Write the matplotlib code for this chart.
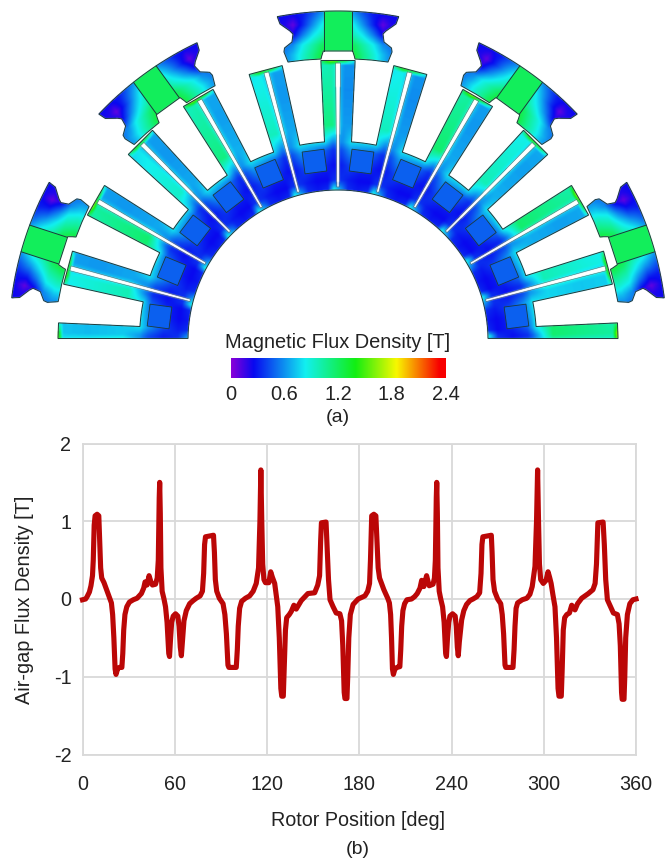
#!/usr/bin/env python3
# -*- coding: utf-8 -*-
"""
Flux density map of the machine section (a) and air-gap flux density (b).
"""
import numpy as np
import matplotlib

matplotlib.use("Agg")
import matplotlib.pyplot as plt
from matplotlib.colors import LinearSegmentedColormap
from matplotlib.patches import Polygon
from matplotlib.path import Path

plt.rcParams['font.family'] = ['Liberation Sans', 'DejaVu Sans']
plt.rcParams['axes.unicode_minus'] = False

# Air-gap curve
rotor_pos = [0, 2, 3, 4.5, 5.5, 6.5, 7, 7.6, 8.2, 9.5, 10.6, 11.2, 11.8, 12.5, 14, 15.5, 17.5, 18.8, 19.6, 20.4,
             21.2, 21.8, 22.8, 24, 25.6, 26.2, 26.8, 27.6, 28.8, 30.5, 33, 35.5, 38.3, 39.8, 40.7, 42, 43.3,
             44.5, 45.5, 47.5, 48.6, 49.3, 49.9, 50.2, 50.6, 51, 51.8, 53, 54, 55, 56.1, 56.6, 57.3, 58, 59,
             60.5, 62, 62.8, 63.6, 64.3, 65, 66, 67.5, 69.7, 72, 74, 76.5, 78, 78.8, 79.4, 80, 82.7, 85.2, 85.8,
             86.4, 87.3, 89, 91.4, 92.6, 93.6, 94.6, 95.2, 100, 100.7, 101.3, 102.2, 103.5, 106, 108.7, 111,
             113, 114.5, 115.4, 116, 116.6, 117.2, 118, 119, 121.2, 122.4, 123.5, 125, 126, 127, 128, 129,
             129.6, 130.6, 131.2, 132, 132.8, 134.5, 135.8, 137.5, 139, 140.5, 142.3, 146.6, 151, 153, 154.2,
             154.9, 155.4, 158.4, 159, 160, 161, 163, 165, 167.4, 168.5, 169.3, 170.2, 170.7, 172, 172.5,
             173.2, 174.2, 176, 179.3,
             181.5, 183.7, 185.5, 186.7, 187.3, 188.1, 189.5, 190.8, 191.5, 192.3, 193.2, 194.5, 196, 198.5,
             199.6, 200.4, 201, 201.6, 202.2, 203.2, 204.5, 206.4, 207, 207.6, 208.4, 209.5, 211, 214, 216,
             217.7, 219.5, 220.6, 222, 223.8, 224.8, 225.5, 228, 228.9, 229.5, 230.1, 230.4, 230.8, 231.2,
             232, 233, 234.2, 235.2, 236.2, 236.7, 237.4, 238.2, 239, 240.7, 242.4, 243.1, 243.8, 244.4, 245.1,
             246.6, 248, 249.8, 252, 254, 256.5, 258.3, 259.2, 259.8, 260.4, 263.3, 265.9, 266.4, 267, 268, 270,
             272, 273, 273.9, 274.8, 275.3, 280, 280.7, 281.3, 282, 283, 286, 289, 291, 292.5, 294.3, 295.3,
             296, 296.6, 297.2, 298, 299.7, 301.5, 302.8, 303.8, 304.8, 306, 307.3, 308.3, 309.3, 309.9, 311.4,
             312, 312.7, 313.6, 315, 316.7, 318.2, 320.3, 322, 324.7, 329, 332, 333.4, 334.3, 335.2, 338.6,
             339.4, 340.3, 341.4, 343.5, 345.3, 347.9, 349, 349.8, 350.6, 351, 352.2, 352.7, 353.3, 354.4, 356,
             358, 360]
air_gap_flux = [-0.01, 0, 0.03, 0.09, 0.17, 0.3, 0.5, 0.95, 1.07, 1.09, 1.07, 0.75, 0.4, 0.27, 0.21, 0.13, 0.02,
                -0.05, -0.2, -0.5, -0.9, -0.97, -0.9, -0.88, -0.88, -0.7, -0.4, -0.2, -0.1, -0.04, -0.01, 0.01,
                0.07, 0.14, 0.22, 0.18, 0.3, 0.22, 0.18, 0.19, 0.27, 0.5, 1.3, 1.5, 1.1, 0.4, 0.1, 0, -0.1, -0.3,
                -0.7, -0.74, -0.5, -0.3, -0.22, -0.19, -0.22, -0.35, -0.62, -0.73, -0.55, -0.28, -0.15, -0.06,
                -0.02, 0.01, 0.04, 0.1, 0.33, 0.7, 0.8, 0.81, 0.82, 0.6, 0.25, 0.1, 0.01, -0.06, -0.2, -0.45, -0.85,
                -0.88, -0.88, -0.65, -0.35, -0.12, -0.03, 0.01, 0.04, 0.1, 0.2, 0.4, 1.0, 1.66, 1.0, 0.45, 0.25,
                0.21, 0.21, 0.35, 0.28, 0.2, 0.05, -0.1, -0.5, -1.15, -1.25, -1.25, -0.9, -0.4, -0.24, -0.2, -0.16,
                -0.08, -0.13, -0.08, -0.02, 0.07, 0.08, 0.18, 0.3, 0.75, 0.98, 0.99, 0.7, 0.25, -0.01, -0.1, -0.18,
                -0.19, -0.28, -0.6, -1.2, -1.28, -1.28, -1.0, -0.5, -0.2, -0.07, 0,
                0.02, 0.04, 0.1, 0.2, 0.5, 1.07, 1.09, 1.07, 0.75, 0.4, 0.27, 0.2, 0.12, 0.01, -0.05, -0.2, -0.5,
                -0.9, -0.97, -0.9, -0.88, -0.87, -0.65, -0.35, -0.15, -0.06, -0.01, 0, 0.03, 0.07, 0.14, 0.24,
                0.16, 0.3, 0.22, 0.17, 0.19, 0.27, 0.5, 1.3, 1.5, 1.1, 0.4, 0.1, 0, -0.1, -0.3, -0.7, -0.74, -0.5,
                -0.3, -0.22, -0.19, -0.22, -0.35, -0.62, -0.73, -0.55, -0.27, -0.15, -0.07, -0.02, 0, 0.03, 0.08,
                0.33, 0.7, 0.8, 0.81, 0.82, 0.6, 0.25, 0.1, 0, -0.06, -0.2, -0.45, -0.85, -0.88, -0.88, -0.65,
                -0.35, -0.12, -0.05, -0.01, 0.01, 0.06, 0.16, 0.42, 1.0, 1.66, 1.0, 0.45, 0.25, 0.2, 0.24, 0.35,
                0.28, 0.2, 0.05, -0.1, -0.5, -1.15, -1.25, -1.25, -0.9, -0.4, -0.24, -0.2, -0.18, -0.08, -0.14,
                -0.06, 0.01, 0.07, 0.12, 0.2, 0.45, 0.98, 0.99, 0.7, 0.25, -0.01, -0.1, -0.18, -0.2, -0.32, -0.6,
                -1.2, -1.29, -1.29, -1.0, -0.5, -0.2, -0.06, -0.01, 0]
x_ticks = [0, 60, 120, 180, 240, 300, 360]
y_ticks = [-2, -1, 0, 1, 2]
cbar_ticks = ["0", "0.6", "1.2", "1.8", "2.4"]

# Flux map colours, estimated from the legend
cmap_stops = [(0.0, "#8a00d8"), (0.25 / 2.4, "#0808f0"), (0.83 / 2.4, "#12f0f0"),
              (1.39 / 2.4, "#12ee12"), (1.85 / 2.4, "#f8f800"), (2.33 / 2.4, "#f80000"), (1.0, "#f80000")]
flux_cmap = LinearSegmentedColormap.from_list("flux", cmap_stops)

# Level in each tooth, side towards smaller and larger angle
tooth_low = [0.9, 0.9, 1.08, 0.85, 1.03, 0.88, 1.03, 0.88, 1.08, 0.9, 1.08, 0.9, 1.08]
tooth_high = [0.72, 0.63, 0.63, 0.63, 0.65, 0.63, 0.6, 0.6, 0.63, 0.65, 0.65, 0.75, 0.72]

# Level in one 15 deg cell of the inner body: radius against offset from the tooth centre
cell_delta = np.array([-7.5, -3.7, -1.5, 1.5, 3.7, 7.5])
cell_r = np.array([150, 160, 175, 190, 198, 215, 250, 275, 280])
cell_level = np.array([[.30, .35, .90, .60, .35, .30],
                       [.25, .25, .35, .35, .30, .25],
                       [.34, .32, .27, .32, .40, .34],
                       [.55, .46, .35, .45, .60, .55],
                       [.76, .76, .55, .60, .78, .76],
                       [.98, .98, .98, .64, .64, .64],
                       [.90, .90, .90, .60, .60, .60],
                       [.82, .82, .86, .62, .62, .62],
                       [.85, .95, 1.6, 1.4, .75, .65]])

# Level in one lobe of an outer piece: distance from its axis against radius
lobe_u = np.array([14, 25, 35, 45, 52, 62])
lobe_r = np.array([278, 285, 295, 305, 315, 325, 331])
lobe_level_tab = np.array([[1.35, 1.10, .92, .70, .58, .50],
                           [1.32, 1.10, .92, .70, .58, .50],
                           [1.22, 1.02, .84, .58, .52, .42],
                           [1.00, .80, .55, .24, .28, .30],
                           [.88, .60, .33, .08, .20, .25],
                           [.68, .47, .30, .25, .25, .25],
                           [.55, .40, .28, .22, .22, .22]])

# Outline of the left half of an outer piece
piece_u = [-60.7, -58, -48, -45, -46, -53.5, -54, -50, -33, -17, -16.3, -14.7]
piece_v = [323.3, 316, 309, 306, 298, 292, 288, 278, 280, 281, 284, 289]
piece_centres = [18, 54, 90, 126, 162]

CX, CY = 338.0, 340.0


def polar(theta, r):
    t = np.radians(theta)
    return CX - r * np.cos(t), CY - r * np.sin(t)


def local(theta, u, v):
    t = np.radians(theta)
    return CX - v * np.cos(t) + u * np.sin(t), CY - v * np.sin(t) - u * np.cos(t)


def body_outline():
    thetas = list(np.linspace(0.6, 179.4, 120))
    radii = [150.0] * 120
    for k in range(12, -1, -1):
        c = 15 * k
        if k < 12:
            thetas.append(c + 3.5)
            radii.append(280)
        else:
            thetas.append(179.7)
            radii.append(280)
        if k > 0:
            thetas.append(c - 3.5)
            radii.append(280)
            floor = np.linspace(c - 3.9, c - 11.1, 6)
            thetas.extend(floor)
            radii.extend([198.5] * 6)
        else:
            thetas.append(0.3)
            radii.append(280)
    return np.column_stack(polar(np.array(thetas), np.array(radii)))


def piece_outline(theta):
    us = piece_u + [-u for u in piece_u[::-1]]
    vs = piece_v + piece_v[::-1]
    phi = np.linspace(10.6, -10.6, 24)
    us = us + list(329 * np.sin(np.radians(phi)))
    vs = vs + list(329 * np.cos(np.radians(phi)))
    return np.column_stack(local(theta, np.array(us), np.array(vs)))


def slit_outline(theta):
    us = np.array([-1.2, 1.2, 2.5, -2.5])
    vs = np.array([153, 153, 277, 277])
    return np.column_stack(local(theta, us, vs))


def block_outline(theta):
    us = np.array([-11, 11, 11, -11])
    vs = np.array([169, 169, 191, 191])
    return np.column_stack(local(theta, us, vs))


def bilerp(x, y, xs, ys, tab):
    i = np.clip(np.searchsorted(xs, x) - 1, 0, len(xs) - 2)
    j = np.clip(np.searchsorted(ys, y) - 1, 0, len(ys) - 2)
    a = np.clip((x - xs[i]) / (xs[i + 1] - xs[i]), 0, 1)
    b = np.clip((y - ys[j]) / (ys[j + 1] - ys[j]), 0, 1)
    return ((1 - a) * (1 - b) * tab[j, i] + a * (1 - b) * tab[j, i + 1]
            + (1 - a) * b * tab[j + 1, i] + a * b * tab[j + 1, i + 1])


def flux_map():
    sx = np.arange(0, 665, 0.5) + 0.25
    sy = np.arange(0, 345, 0.5) + 0.25
    xx, yy = np.meshgrid(sx, sy)
    pts = np.column_stack([xx.ravel(), yy.ravel()])
    rgba = np.ones((pts.shape[0], 4))

    # inner body
    mask = Path(body_outline()).contains_points(pts)
    dx, dy = CX - pts[:, 0], CY - pts[:, 1]
    r = np.hypot(dx, dy)
    theta = np.degrees(np.arctan2(dy, dx))
    k = np.clip(np.round(theta / 15).astype(int), 0, 12)
    delta = theta - 15 * k
    lev = bilerp(delta[mask], r[mask], cell_delta, cell_r, cell_level)
    side = np.where(delta[mask] < 0, np.array(tooth_low)[k[mask]] - 0.9, np.array(tooth_high)[k[mask]] - 0.62)
    lev = lev + np.clip((r[mask] - 195) / 20, 0, 1) * side
    rgba[mask] = flux_cmap(lev / 2.4)

    # blocks and slits
    for c in 7.5 + 15 * np.arange(12):
        m = Path(block_outline(c)).contains_points(pts)
        rgba[m] = flux_cmap(0.47 / 2.4)
    for c in 15 * np.arange(1, 12):
        m = Path(slit_outline(c)).contains_points(pts)
        rgba[m] = (1, 1, 1, 1)

    # outer pieces
    for c in piece_centres:
        m = Path(piece_outline(c)).contains_points(pts)
        t = np.radians(c)
        ox, oy = pts[m, 0] - CX, pts[m, 1] - CY
        v = -ox * np.cos(t) - oy * np.sin(t)
        u = ox * np.sin(t) - oy * np.cos(t)
        lev = bilerp(np.abs(u), v, lobe_u, lobe_r, lobe_level_tab)
        lev[np.abs(u) < 14] = 1.2
        rgba[m] = flux_cmap(lev / 2.4)

    img = rgba.reshape(xx.shape[0], xx.shape[1], 4)
    # the source is a soft screenshot
    for axis in (0, 1):
        img = (np.roll(img, 1, axis=axis) + img + np.roll(img, -1, axis=axis)) / 3.0
    return img


fig = plt.figure(figsize=(6.65, 8.65), dpi=100)

# (a): whole figure in pixel coordinates
ax_map = fig.add_axes([0, 0, 1, 1])
ax_map.axis("off")
ax_map.imshow(flux_map(), extent=(0, 665, 345, 0), interpolation="bilinear", aspect="auto", zorder=1)

EDGE = "#1c3a3a"
ax_map.add_patch(Polygon(body_outline(), closed=True, fill=False, ec=EDGE, lw=0.7, zorder=2))
for c in piece_centres:
    ax_map.add_patch(Polygon(piece_outline(c), closed=True, fill=False, ec=EDGE, lw=0.7, zorder=2))
    for u0 in (-14, 14):
        xs, ys = local(c, np.array([u0, u0]), np.array([289.5, 328.5]))
        ax_map.plot(xs, ys, color=EDGE, lw=0.7, zorder=2)
for c in 7.5 + 15 * np.arange(12):
    ax_map.add_patch(Polygon(block_outline(c), closed=True, fill=False, ec=EDGE, lw=0.6, zorder=2))
for c in 15 * np.arange(1, 12):
    ax_map.add_patch(Polygon(slit_outline(c), closed=True, fill=False, ec=EDGE, lw=0.4, alpha=0.7, zorder=2))

ax_map.text(338, 342, "Magnetic Flux Density [T]", ha="center", va="center", fontsize=14.4, color="#222222")
gradient = np.linspace(0, 1, 256)[None, :]
ax_map.imshow(gradient, cmap=flux_cmap, extent=(230.5, 445.5, 378.5, 359), aspect="auto", zorder=2)
ax_map.set_xlim(0, 665)
ax_map.set_ylim(865, 0)
for i, lab in enumerate(cbar_ticks):
    ax_map.text(230.5 + i * 53.75, 394, lab, ha="center", va="center", fontsize=14.4, color="#222222")
ax_map.text(338, 418, "(a)", ha="center", va="center", fontsize=14, color="#222222")

# (b)
L, R, T, B = 82.5, 636.0, 443.5, 754.5
ax = fig.add_axes([L / 665, 1 - B / 865, (R - L) / 665, (B - T) / 865])
ax.patch.set_alpha(0)
ax.plot(rotor_pos, air_gap_flux, color="#bb0707", lw=3.7, solid_joinstyle="round", clip_on=False, zorder=3)
ax.set_xlim(0, 360)
ax.set_ylim(-2, 2)
ax.set_xticks(x_ticks)
ax.set_yticks(y_ticks)
ax.grid(True, color="#d9d9d9", lw=1.3)
ax.set_axisbelow(True)
for s in ax.spines.values():
    s.set_color("#d9d9d9")
    s.set_linewidth(1.3)
ax.tick_params(length=0, labelsize=14.2, labelcolor="#222222", pad=8)
ax.tick_params(axis="x", pad=15)

ax_map.text(358, 820, "Rotor Position [deg]", ha="center", va="center", fontsize=14.2, color="#222222")
ax_map.text(358, 850, "(b)", ha="center", va="center", fontsize=14, color="#222222")
ax_map.text(25, 600, "Air-gap Flux Density [T]", ha="center", va="center", rotation=90, fontsize=14.3, color="#222222")

fig.savefig("out.png", dpi=100)
